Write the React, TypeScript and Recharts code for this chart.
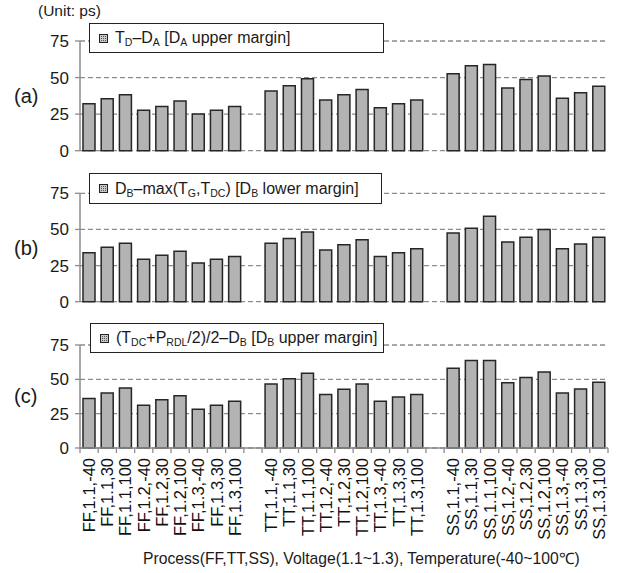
import React from "react";
import { BarChart, Bar, XAxis, YAxis, CartesianGrid } from "recharts";

// 27 corner cases, 9 per process, shown with a blank slot between processes
const ffCases = ["FF,1.1,-40", "FF,1.1,30", "FF,1.1,100", "FF,1.2,-40", "FF,1.2,30", "FF,1.2,100", "FF,1.3,-40", "FF,1.3,30", "FF,1.3,100"];
const ttCases = ["TT,1.1,-40", "TT,1.1,30", "TT,1.1,100", "TT,1.2,-40", "TT,1.2,30", "TT,1.2,100", "TT,1.3,-40", "TT,1.3,30", "TT,1.3,100"];
const ssCases = ["SS,1.1,-40", "SS,1.1,30", "SS,1.1,100", "SS,1.2,-40", "SS,1.2,30", "SS,1.2,100", "SS,1.3,-40", "SS,1.3,30", "SS,1.3,100"];

const yTicks = [0, 25, 50, 75];

// (a) TD-DA  [DA upper margin]
const daUpper = [32.1, 35.5, 38.3, 27.6, 30.3, 33.9, 25.1, 27.6, 30.3, 40.8, 44.4, 49.2, 34.6, 38.3, 41.9, 29.4, 32.1, 34.6, 52.6, 58.1, 59.0, 42.8, 48.6, 51.0, 35.9, 39.6, 44.1];
// (b) DB-max(TG,TDC)  [DB lower margin]
const dbLower = [33.9, 37.6, 40.4, 29.4, 32.1, 34.9, 26.8, 29.4, 31.2, 40.4, 43.8, 48.2, 35.8, 39.4, 42.9, 31.2, 33.9, 36.7, 47.5, 50.9, 59.2, 41.3, 44.6, 49.9, 36.6, 40.0, 44.6];
// (c) (TDC+PRDL/2)/2-DB  [DB upper margin]
const dbUpper = [36.1, 40.0, 43.7, 31.2, 35.1, 38.0, 28.3, 31.2, 34.1, 46.6, 50.5, 54.4, 39.0, 42.7, 46.6, 34.1, 37.1, 39.0, 58.0, 63.7, 63.7, 47.6, 51.4, 55.3, 40.1, 43.0, 47.8];

const FONT = "'Liberation Sans', Arial, Helvetica, sans-serif";
const AXIS_GRAY = "#8c8c8c";
const W = 623;
const Y_AXIS_W = 80;
const RIGHT = 15;
const SLOTS = ffCases.length + ttCases.length + ssCases.length + 2;
const PITCH = (W - Y_AXIS_W - RIGHT) / SLOTS;

type Row = { cat: string; v: number | null };

function buildRows(values: number[]): Row[] {
  const rows: Row[] = [];
  const groups = [ffCases, ttCases, ssCases];
  let k = 0;
  groups.forEach((g, gi) => {
    g.forEach((c) => {
      rows.push({ cat: c, v: values[k] });
      k++;
    });
    if (gi < groups.length - 1) rows.push({ cat: `gap${gi}`, v: null });
  });
  return rows;
}

function CatTick(props: any) {
  const { x, y, payload, index } = props;
  const label = String(payload.value).startsWith("gap") ? "" : payload.value;
  return (
    <g>
      <line x1={x - PITCH / 2} x2={x - PITCH / 2} y1={y} y2={y + 5} stroke={AXIS_GRAY} strokeWidth={1.3} />
      {index === SLOTS - 1 && (
        <line x1={x + PITCH / 2} x2={x + PITCH / 2} y1={y} y2={y + 5} stroke={AXIS_GRAY} strokeWidth={1.3} />
      )}
      <text
        transform={`translate(${x},${y + 10}) rotate(-90)`}
        textAnchor="end"
        dy="0.36em"
        fontSize={16.5}
        fontFamily={FONT}
        fill="#111"
        stroke="none"
      >
        {label}
      </text>
    </g>
  );
}

function LegendBox({ left, top, width, height, children }: any) {
  return (
    <div
      style={{
        position: "absolute",
        left,
        top,
        width,
        height,
        boxSizing: "border-box",
        border: "1.5px solid #222",
        background: "#fff",
        display: "flex",
        alignItems: "center",
        paddingLeft: 9,
        fontFamily: FONT,
        fontSize: 16,
        color: "#1a1a1a",
        whiteSpace: "nowrap",
      }}
    >
      <svg width={9} height={9} style={{ marginRight: 7, flex: "none" }}>
        <defs>
          <pattern id="hatch" width="2" height="2" patternUnits="userSpaceOnUse">
            <rect width="2" height="2" fill="#c8c8c8" />
            <rect width="1" height="1" fill="#555" />
          </pattern>
        </defs>
        <rect x={0.5} y={0.5} width={8} height={8} fill="url(#hatch)" stroke="#222" strokeWidth={1} />
      </svg>
      <span>{children}</span>
    </div>
  );
}

const subStyle: React.CSSProperties = { fontSize: 10.5, verticalAlign: -3, lineHeight: 0 };
const S = ({ children }: { children: React.ReactNode }) => <sub style={subStyle}>{children}</sub>;

function Panel({
  values,
  top,
  height,
  plotTop,
  plotBottom,
  showX,
}: {
  values: number[];
  top: number;
  height: number;
  plotTop: number;
  plotBottom: number;
  showX: boolean;
}) {
  const rows = buildRows(values);
  const xH = 100;
  return (
    <div style={{ position: "absolute", left: 0, top, width: W, height }}>
      <BarChart
        width={W}
        height={height}
        data={rows}
        margin={{ top: plotTop, right: RIGHT, left: 0, bottom: showX ? plotBottom - xH : plotBottom }}
        barSize={12}
      >
        <CartesianGrid vertical={false} strokeDasharray="5 3" stroke={AXIS_GRAY} strokeWidth={1.3} />
        <XAxis
          dataKey="cat"
          hide={!showX}
          interval={0}
          height={xH}
          tickLine={false}
          tickSize={0}
          tickMargin={0}
          axisLine={{ stroke: AXIS_GRAY, strokeWidth: 1.5 }}
          tick={<CatTick />}
        />
        <YAxis
          width={Y_AXIS_W}
          domain={[0, 75]}
          ticks={yTicks}
          interval={0}
          tickSize={5}
          tickMargin={6}
          axisLine={{ stroke: AXIS_GRAY, strokeWidth: 1.5 }}
          tickLine={{ stroke: AXIS_GRAY, strokeWidth: 1.3 }}
          tick={{ fontSize: 17, fill: "#1a1a1a", fontFamily: FONT }}
        />
        <Bar dataKey="v" fill="#b3b3b3" stroke="#262626" strokeWidth={1.5} isAnimationActive={false} />
      </BarChart>
    </div>
  );
}

const tagStyle = (top: number): React.CSSProperties => ({
  position: "absolute",
  left: 14,
  top,
  fontFamily: FONT,
  fontSize: 20,
  color: "#1a1a1a",
  lineHeight: "20px",
});

export default function App() {
  return (
    <div style={{ position: "absolute", left: 0, top: 0, width: W, height: 573, background: "#fff", overflow: "hidden" }}>
      <div style={{ position: "absolute", left: 38, top: 2, fontFamily: FONT, fontSize: 15.5, color: "#1a1a1a" }}>(Unit: ps)</div>

      <Panel values={daUpper} top={0} height={166} plotTop={41} plotBottom={15.3} showX={false} />
      <Panel values={dbLower} top={160} height={156} plotTop={33.3} plotBottom={14.3} showX={false} />
      <Panel values={dbUpper} top={310} height={263} plotTop={35} plotBottom={125} showX={true} />

      <div style={tagStyle(86)}>(a)</div>
      <div style={tagStyle(238)}>(b)</div>
      <div style={tagStyle(386)}>(c)</div>

      <LegendBox left={89} top={23} width={295} height={30}>
        T<S>D</S>–D<S>A</S> [D<S>A</S> upper margin]
      </LegendBox>
      <LegendBox left={89} top={173} width={293} height={31}>
        D<S>B</S>–max(T<S>G</S>,T<S>DC</S>) [D<S>B</S> lower margin]
      </LegendBox>
      <LegendBox left={90} top={323} width={294} height={30}>
        (T<S>DC</S>+P<S>RDL</S>/2)/2–D<S>B</S> [D<S>B</S> upper margin]
      </LegendBox>

      <div
        style={{
          position: "absolute",
          left: 143,
          top: 547,
          fontFamily: FONT,
          fontSize: 15.7,
          color: "#1a1a1a",
          whiteSpace: "nowrap",
        }}
      >
        Process(FF,TT,SS), Voltage(1.1~1.3), Temperature(-40~100℃)
      </div>
    </div>
  );
}
